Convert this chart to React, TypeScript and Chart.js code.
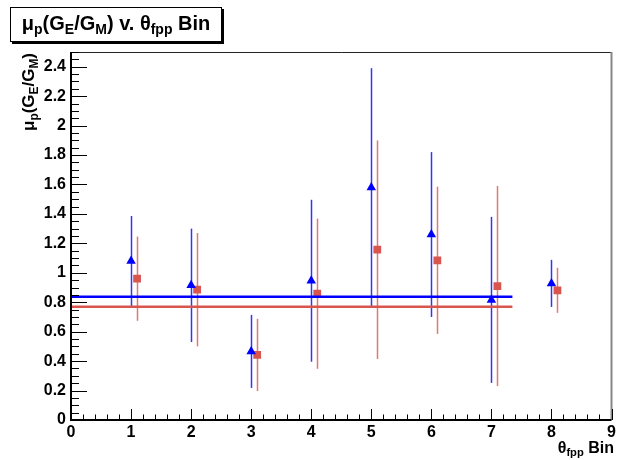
import React, { useEffect, useRef } from "react";
import { Chart, registerables } from "chart.js";

Chart.register(...registerables);

// ---- data ----
const xTickValues = [0, 1, 2, 3, 4, 5, 6, 7, 8, 9];
const yTickValues = [0, 0.2, 0.4, 0.6, 0.8, 1, 1.2, 1.4, 1.6, 1.8, 2, 2.2, 2.4];

const blueX = [1, 2, 3, 4, 5, 6, 7, 8];
const blueY = [1.08, 0.915, 0.466, 0.946, 1.58, 1.26, 0.816, 0.928];
const blueErr = [0.306, 0.385, 0.248, 0.55, 0.81, 0.56, 0.564, 0.16];

const redX = [1.1, 2.1, 3.1, 4.1, 5.1, 6.1, 7.1, 8.1];
const redY = [0.96, 0.885, 0.442, 0.858, 1.157, 1.085, 0.91, 0.881];
const redErr = [0.286, 0.385, 0.245, 0.51, 0.742, 0.5, 0.68, 0.153];

const fitBlue = 0.838;
const fitRed = 0.77;
const fitRange = [0, 7.35];

const X_MIN = 0, X_MAX = 9, Y_MIN = 0, Y_MAX = 2.5;

const BLUE = "#0000ff";
const RED = "#d9564e";
const FONT = '"Liberation Sans", Arial, Helvetica, sans-serif';

const rootPlugin = {
  id: "rootStyle",
  beforeDatasetsDraw(chart: any) {
    const { ctx, scales } = chart;
    const xs = scales.x, ys = scales.y;
    const bars = (X: number[], Y: number[], E: number[], color: string) => {
      ctx.save();
      ctx.strokeStyle = color;
      ctx.lineWidth = 1.5;
      for (let i = 0; i < X.length; i++) {
        const px = Math.round(xs.getPixelForValue(X[i])) + 0.5;
        ctx.beginPath();
        ctx.moveTo(px, ys.getPixelForValue(Y[i] - E[i]));
        ctx.lineTo(px, ys.getPixelForValue(Y[i] + E[i]));
        ctx.stroke();
      }
      ctx.restore();
    };
    bars(blueX, blueY, blueErr, "rgba(0,0,255,0.8)");
    bars(redX, redY, redErr, "rgba(217,86,78,0.8)");
  },
  afterDraw(chart: any) {
    const { ctx, chartArea: a, scales } = chart;
    const xs = scales.x, ys = scales.y;
    ctx.save();
    ctx.strokeStyle = "#222";
    ctx.lineWidth = 1;
    ctx.beginPath();
    ctx.moveTo(a.left, a.top + 0.5);
    ctx.lineTo(a.right, a.top + 0.5);
    ctx.stroke();
    ctx.strokeStyle = "#888";
    ctx.lineWidth = 2;
    ctx.beginPath();
    ctx.moveTo(a.right, a.top);
    ctx.lineTo(a.right, a.bottom);
    ctx.stroke();
    ctx.strokeStyle = "#000";
    ctx.lineWidth = 2;
    ctx.beginPath();
    ctx.moveTo(a.left, a.top);
    ctx.lineTo(a.left, a.bottom);
    ctx.lineTo(a.right, a.bottom);
    ctx.stroke();
    ctx.lineWidth = 1;
    const xMajor = 11, xMinor = 5.5;
    for (let v = X_MIN; v <= X_MAX + 1e-9; v += 0.2) {
      const isMajor = Math.abs(v - Math.round(v)) < 1e-6;
      const px = Math.round(xs.getPixelForValue(v)) + 0.5;
      ctx.beginPath();
      ctx.moveTo(px, a.bottom);
      ctx.lineTo(px, a.bottom - (isMajor ? xMajor : xMinor));
      ctx.stroke();
    }
    const yMajor = 16, yMinor = 8;
    for (let i = 0; Y_MIN + i * 0.05 <= Y_MAX + 1e-9; i++) {
      const v = Y_MIN + i * 0.05;
      const isMajor = i % 4 === 0;
      const py = Math.round(ys.getPixelForValue(v)) + 0.5;
      ctx.beginPath();
      ctx.moveTo(a.left, py);
      ctx.lineTo(a.left + (isMajor ? yMajor : yMinor), py);
      ctx.stroke();
    }
    ctx.restore();
  },
};

export default function App() {
  const ref = useRef<HTMLCanvasElement>(null);
  useEffect(() => {
    if (!ref.current) return;
    const chart = new Chart(ref.current, {
      type: "scatter",
      data: {
        datasets: [
          {
            type: "line",
            data: fitRange.map((x) => ({ x, y: fitBlue })),
            borderColor: BLUE,
            borderWidth: 2.5,
            pointRadius: 0,
          } as any,
          {
            type: "line",
            data: fitRange.map((x) => ({ x, y: fitRed })),
            borderColor: RED,
            borderWidth: 2.5,
            pointRadius: 0,
          } as any,
          {
            data: blueX.map((x, i) => ({ x, y: blueY[i] })),
            pointStyle: "triangle",
            pointRadius: 5.5,
            backgroundColor: BLUE,
            borderColor: BLUE,
            borderWidth: 0,
          },
          {
            data: redX.map((x, i) => ({ x, y: redY[i] })),
            pointStyle: "rect",
            pointRadius: 5.5,
            backgroundColor: RED,
            borderColor: RED,
            borderWidth: 0,
          },
        ],
      },
      options: {
        animation: false,
        responsive: false,
        devicePixelRatio: 1,
        layout: { padding: { top: 52, right: 2, left: 0, bottom: 0 } },
        plugins: { legend: { display: false }, tooltip: { enabled: false } },
        scales: {
          x: {
            type: "linear",
            min: X_MIN,
            max: X_MAX,
            grid: { display: false, drawTicks: false },
            border: { display: false },
            afterBuildTicks: (s: any) => {
              s.ticks = xTickValues.map((value) => ({ value }));
            },
            afterFit: (s: any) => {
              s.height = 40;
              s.paddingLeft = 0;
              s.paddingRight = 0;
            },
            ticks: {
              color: "#000",
              padding: 3,
              maxRotation: 0,
              autoSkip: false,
              font: { family: FONT, weight: "bold", size: 16 },
              callback: (v: any) => String(v),
            },
          },
          y: {
            type: "linear",
            min: Y_MIN,
            max: Y_MAX,
            grid: { display: false, drawTicks: false },
            border: { display: false },
            afterBuildTicks: (s: any) => {
              s.ticks = yTickValues.map((value) => ({ value }));
            },
            afterFit: (s: any) => {
              s.width = 71;
              s.paddingTop = 0;
              s.paddingBottom = 0;
            },
            ticks: {
              color: "#000",
              padding: 5,
              autoSkip: false,
              font: { family: FONT, weight: "bold", size: 16 },
              callback: (v: any) => String(Number(Number(v).toFixed(2))),
            },
          },
        },
      } as any,
      plugins: [rootPlugin],
    });
    return () => chart.destroy();
  }, []);

  const sub: React.CSSProperties = { fontSize: "0.7em", verticalAlign: "-0.3em", lineHeight: 0 };

  return (
    <div
      style={{
        position: "fixed",
        left: 0,
        top: 0,
        width: 617,
        height: 460,
        background: "#fff",
        overflow: "hidden",
        fontFamily: FONT,
        fontWeight: "bold",
      }}
    >
      <canvas ref={ref} width={617} height={460} style={{ position: "absolute", left: 0, top: 0, width: 617, height: 460 }} />
      <div
        style={{
          position: "absolute",
          left: 10,
          top: 7,
          width: 210,
          height: 31,
          border: "1px solid #000",
          boxShadow: "2px 2px 0 #000",
          background: "#fff",
          fontSize: 20,
          display: "flex",
          alignItems: "center",
          justifyContent: "center",
          whiteSpace: "nowrap",
          paddingBottom: 2,
          boxSizing: "content-box",
        }}
      >
        <span>
          μ<span style={sub}>p</span>(G<span style={sub}>E</span>/G<span style={sub}>M</span>) v. θ<span style={sub}>fpp</span> Bin
        </span>
      </div>
      <div
        style={{
          position: "absolute",
          left: 18,
          top: 131,
          transformOrigin: "left top",
          transform: "rotate(-90deg)",
          whiteSpace: "nowrap",
          fontSize: 17,
          lineHeight: "21px",
        }}
      >
        μ<span style={sub}>p</span>(G<span style={sub}>E</span>/G<span style={sub}>M</span>)
      </div>
      <div
        style={{
          position: "absolute",
          right: 3,
          top: 438,
          whiteSpace: "nowrap",
          fontSize: 16,
          lineHeight: "20px",
        }}
      >
        θ<span style={sub}>fpp</span> Bin
      </div>
    </div>
  );
}
